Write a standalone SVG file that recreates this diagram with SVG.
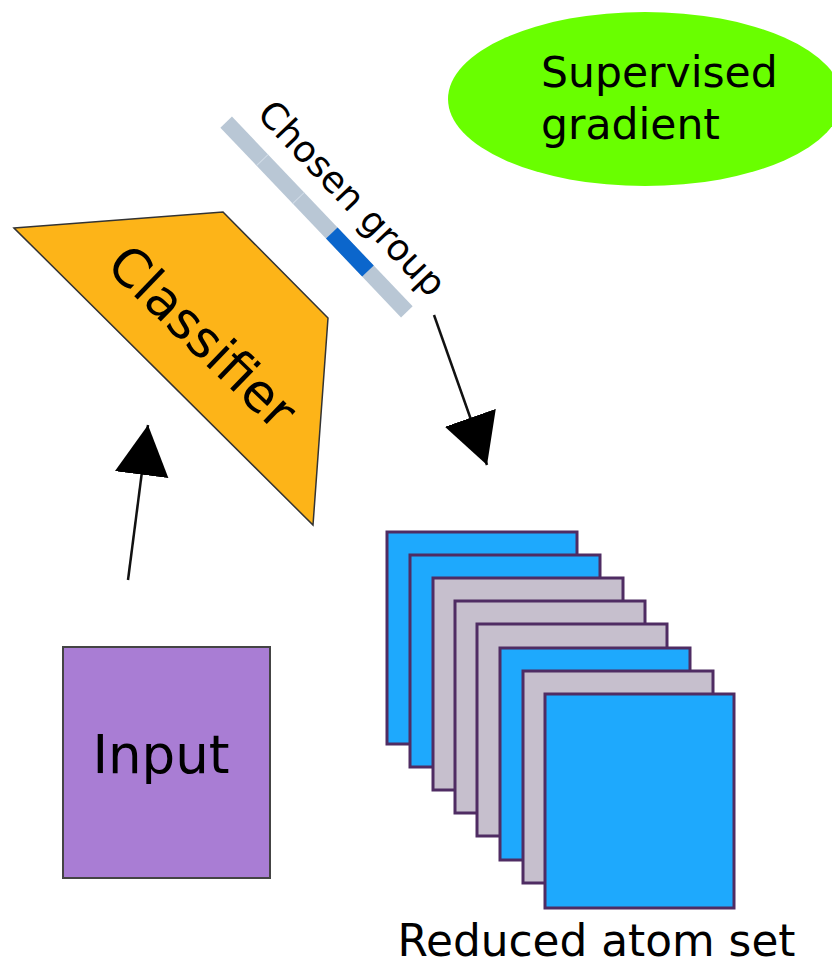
<svg xmlns="http://www.w3.org/2000/svg" width="832" height="965" viewBox="0 0 832 965">
<style>
text{font-family:"DejaVu Sans","Liberation Sans",sans-serif;fill:#000}
.card{stroke:#4f2c63;stroke-width:3}
.blue{fill:#1ea9fd}
.gray{fill:#c6bfcd}
.conn{stroke:#111;stroke-width:2.5;fill:none}
</style>
<defs>
<marker id="ah" markerUnits="userSpaceOnUse" markerWidth="52" markerHeight="56" refX="50" refY="27" orient="auto" viewBox="0 0 52 56">
<path d="M0,0 L50,27 L0,54 z" fill="#000"/>
</marker>
</defs>
<rect width="832" height="965" fill="#fff"/>

<g id="supervised-gradient">
<ellipse cx="645" cy="99" rx="197" ry="87" fill="#69ff00"/>
<text x="541" y="87" font-size="42.5">Supervised</text>
<text x="541" y="139" font-size="42.5">gradient</text>
</g>

<g id="chosen-group">
<g transform="translate(316.5,217) rotate(46.4)">
<rect x="-131" y="-8" width="262" height="16" fill="#b9c7d5"/>
<rect x="22.2" y="-8" width="52.4" height="16" fill="#0b66cc"/>
<line x1="-78.6" y1="-8" x2="-78.6" y2="8" stroke="#d2dde8" stroke-width="1"/>
<line x1="-26.2" y1="-8" x2="-26.2" y2="8" stroke="#d2dde8" stroke-width="1"/>
</g>
<text transform="translate(343,207) rotate(46.4)" font-size="36.5" text-anchor="middle">Chosen group</text>
</g>

<g id="classifier">
<polygon points="14,228 223,212 328,318 313,525" fill="#fdb418" stroke="#333" stroke-width="1.5"/>
<text transform="translate(190,350) rotate(44)" font-size="52" text-anchor="middle">Classifier</text>
</g>

<g id="input">
<rect x="63" y="647" width="207" height="231" fill="#a97dd4" stroke="#444" stroke-width="2"/>
<text x="161" y="773" font-size="53" text-anchor="middle">Input</text>
</g>

<g id="reduced-atom-set">
<rect class="card blue" x="387" y="532" width="190" height="212"/>
<rect class="card blue" x="410" y="555" width="190" height="212"/>
<rect class="card gray" x="433" y="578" width="190" height="212"/>
<rect class="card gray" x="455" y="601" width="190" height="212"/>
<rect class="card gray" x="477" y="624" width="190" height="212"/>
<rect class="card blue" x="500" y="648" width="190" height="212"/>
<rect class="card gray" x="523" y="671" width="190" height="212"/>
<rect class="card blue" x="545" y="694" width="189" height="214"/>
<text x="596.5" y="956" font-size="43.8" text-anchor="middle">Reduced atom set</text>
</g>

<g id="connectors">
<line class="conn" x1="128" y1="580" x2="148" y2="425" marker-end="url(#ah)"/>
<line class="conn" x1="434" y1="315" x2="487" y2="465" marker-end="url(#ah)"/>
</g>
</svg>
